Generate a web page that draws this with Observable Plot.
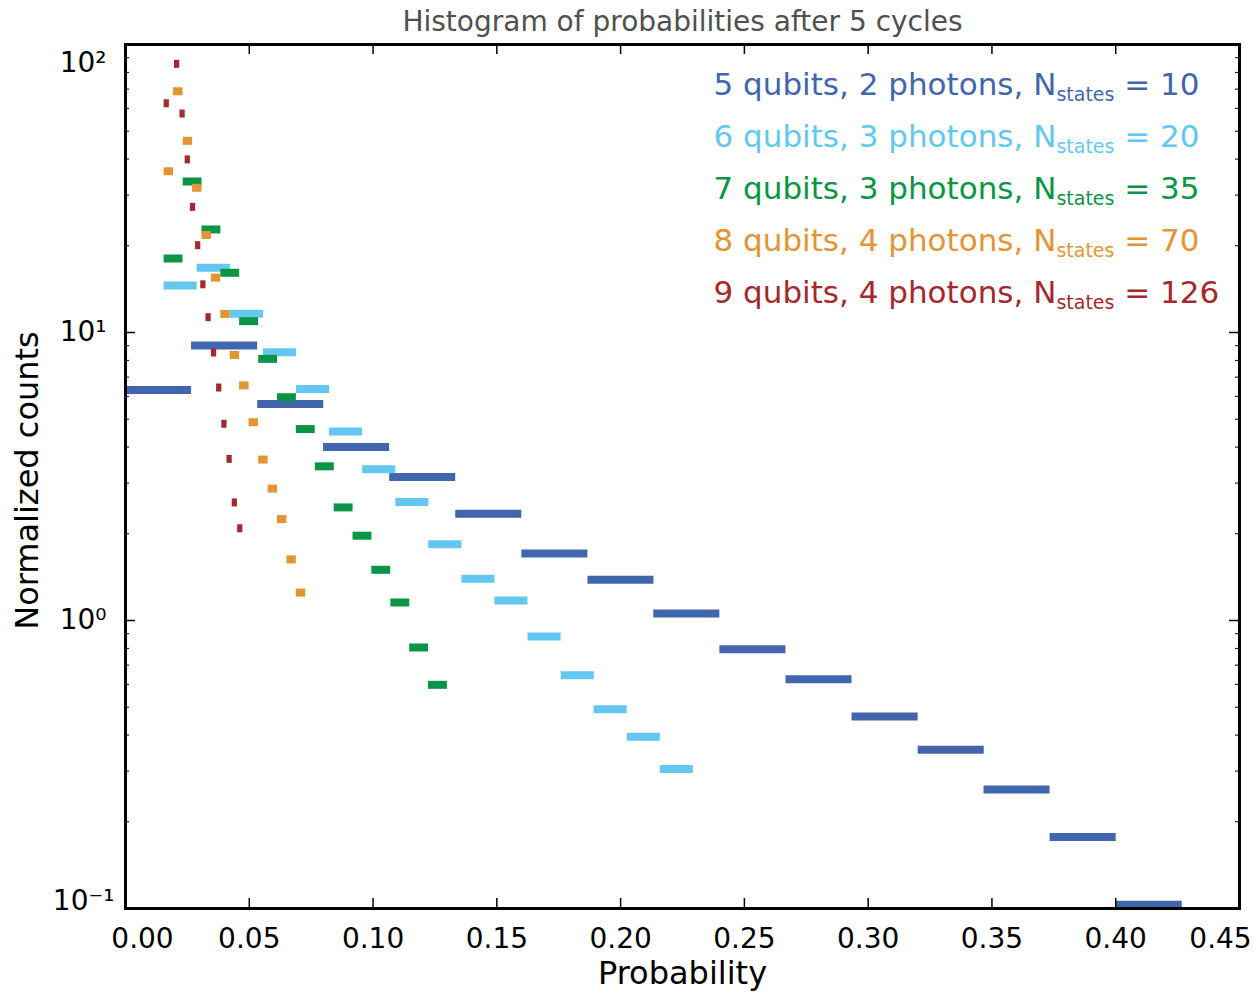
<!DOCTYPE html>
<html><head><meta charset="utf-8">
<script src="https://cdn.jsdelivr.net/npm/d3@7"></script>
<script src="https://cdn.jsdelivr.net/npm/@observablehq/plot@0.6"></script>
<style>body{margin:0;background:#fff;}</style>
</head><body><div id="chart"></div>
<script>
// ---- data ----
const title = "Histogram of probabilities after 5 cycles";
const xLabel = "Probability";
const yLabel = "Normalized counts";
const seriesNames = ["5 qubits, 2 photons", "6 qubits, 3 photons", "7 qubits, 3 photons", "8 qubits, 4 photons", "9 qubits, 4 photons"];
const nStates = [10, 20, 35, 70, 126];
const colors = ["#4266ac", "#63c8f0", "#0a9445", "#e39433", "#a5282d"];
const binWidths = [0.02668, 0.01336, 0.007627, 0.003811, 0.002118];

const binStarts5 = [0, 0.0267, 0.0534, 0.0800, 0.1067, 0.1334, 0.1601, 0.1868, 0.2134, 0.2401, 0.2668, 0.2935, 0.3202, 0.3468, 0.3735, 0.4002];
const counts5 = [6.32, 9.01, 5.65, 4.00, 3.15, 2.35, 1.71, 1.385, 1.057, 0.795, 0.625, 0.464, 0.356, 0.259, 0.177, 0.103];
const binStarts6 = [0.0156, 0.0290, 0.0424, 0.0557, 0.0691, 0.0824, 0.0958, 0.1092, 0.1225, 0.1359, 0.1492, 0.1626, 0.1760, 0.1893, 0.2027, 0.2160];
const counts6 = [14.56, 16.77, 11.61, 8.54, 6.37, 4.53, 3.35, 2.58, 1.84, 1.395, 1.173, 0.880, 0.645, 0.492, 0.395, 0.305];
const binStarts7 = [0.0156, 0.0233, 0.0309, 0.0385, 0.0461, 0.0538, 0.0614, 0.0690, 0.0767, 0.0843, 0.0919, 0.0995, 0.1072, 0.1148, 0.1224];
const counts7 = [18.07, 33.44, 22.79, 16.12, 10.95, 8.10, 5.96, 4.62, 3.43, 2.47, 1.97, 1.50, 1.155, 0.806, 0.598];
const binStarts8 = [0.0156, 0.0194, 0.0233, 0.0271, 0.0309, 0.0347, 0.0385, 0.0423, 0.0461, 0.0499, 0.0538, 0.0576, 0.0614, 0.0652, 0.0690];
const counts8 = [36.3, 68.8, 46.3, 31.8, 21.8, 15.5, 11.6, 8.36, 6.55, 4.88, 3.62, 2.87, 2.25, 1.63, 1.25];
const binStarts9 = [0.0156, 0.0198, 0.0220, 0.0241, 0.0262, 0.0283, 0.0304, 0.0325, 0.0347, 0.0368, 0.0389, 0.0410, 0.0431, 0.0453];
const counts9 = [62.5, 85.7, 57.6, 39.9, 27.3, 20.1, 14.7, 11.3, 8.52, 6.44, 4.82, 3.64, 2.57, 2.09];

const xTicks = [0.05, 0.10, 0.15, 0.20, 0.25, 0.30, 0.35, 0.40];
const yMajor = [0.1, 1, 10, 100];
const yMinor = [0.2, 0.3, 0.4, 0.5, 0.6, 0.7, 0.8, 0.9, 2, 3, 4, 5, 6, 7, 8, 9, 20, 30, 40, 50, 60, 70, 80, 90];

// ---- build table ----
const allStarts = [binStarts5, binStarts6, binStarts7, binStarts8, binStarts9];
const allCounts = [counts5, counts6, counts7, counts8, counts9];
const series = allStarts.map((starts, s) => starts.map((x0, i) => ({s, x1: x0, x2: x0 + binWidths[s], y: allCounts[s][i]})));

// ---- layout ----
const W = 1255, H = 993, mL = 125, mR = 16, mT = 44, mB = 85;
const fw = W - mL - mR, fh = H - mT - mB;

const supDigits = {"-": "⁻", "0": "⁰", "1": "¹", "2": "²", "3": "³"};
const fmtPow = d => "10" + String(Math.round(Math.log10(d))).split("").map(c => supDigits[c]).join("");

const marks = [];
series.forEach((rows, s) => {
  marks.push(Plot.ruleY(rows, {x1: "x1", x2: "x2", y: "y", stroke: colors[s], strokeWidth: 8, strokeLinecap: "butt"}));
});
// inward ticks
marks.push(Plot.tickY(yMajor, {y: d => d, insetRight: fw - 10, strokeWidth: 1.5}));
marks.push(Plot.tickY(yMajor, {y: d => d, insetLeft: fw - 10, strokeWidth: 1.5}));
marks.push(Plot.tickY(yMinor, {y: d => d, insetRight: fw - 4, strokeWidth: 1}));
marks.push(Plot.tickY(yMinor, {y: d => d, insetLeft: fw - 4, strokeWidth: 1}));
marks.push(Plot.tickX(xTicks, {x: d => d, insetTop: fh - 10, strokeWidth: 1.5}));
marks.push(Plot.tickX(xTicks, {x: d => d, insetBottom: fh - 10, strokeWidth: 1.5}));
// tick labels
const xFmt = d3.format(".2f");
marks.push(Plot.axisX(xTicks, {tickSize: 0, tickPadding: 20, fontSize: 28, tickFormat: xFmt, label: null}));
marks.push(Plot.axisX([0], {tickSize: 0, tickPadding: 20, fontSize: 28, tickFormat: xFmt, label: null, dx: 17}));
marks.push(Plot.axisX([0.45], {tickSize: 0, tickPadding: 20, fontSize: 28, tickFormat: xFmt, label: null, dx: -19}));
marks.push(Plot.axisY([1, 10], {tickSize: 0, tickPadding: 19, fontSize: 28, tickFormat: fmtPow, label: null}));
marks.push(Plot.axisY([100], {tickSize: 0, tickPadding: 19, fontSize: 28, tickFormat: fmtPow, label: null, dy: 19}));
marks.push(Plot.axisY([0.1], {tickSize: 0, tickPadding: 19, fontSize: 28, tickFormat: fmtPow, label: null, dy: -7, dx: 8}));
marks.push(Plot.frame({stroke: "black", strokeWidth: 3}));
// titles
marks.push(Plot.text([title], {text: d => d, frameAnchor: "top", lineAnchor: "top", dy: -33, fontSize: 28, fill: "#505050"}));
marks.push(Plot.text([xLabel], {text: d => d, frameAnchor: "bottom", lineAnchor: "top", dy: 53, fontSize: 32, fill: "black"}));
marks.push(Plot.text([yLabel], {text: d => d, frameAnchor: "left", textAnchor: "middle", rotate: -90, dx: -98, dy: 4, fontSize: 32, fill: "black"}));
// legend
seriesNames.forEach((name, i) => {
  marks.push(Plot.text([`${name}, N|states| = ${nStates[i]}`], {
    text: d => d, frameAnchor: "top-left", textAnchor: "start", lineAnchor: "top",
    dx: 588, dy: 94 + 52 * i - 22 - mT, fontSize: 31, fill: colors[i]
  }));
});

const svg = Plot.plot({
  width: W, height: H, marginLeft: mL, marginRight: mR, marginTop: mT, marginBottom: mB,
  x: {domain: [0, 0.45]},
  y: {type: "log", domain: [0.1, 100]},
  style: {fontFamily: "'DejaVu Sans', sans-serif", background: "white", color: "black"},
  marks
});

// subscript "states" in legend
d3.select(svg).selectAll("text").each(function() {
  const t = d3.select(this);
  const s = t.text();
  if (s.indexOf("|") < 0) return;
  const parts = s.split("|");
  t.text(null);
  t.append("tspan").text(parts[0]);
  t.append("tspan").attr("font-size", 19).attr("dy", 6).text(parts[1]);
  t.append("tspan").attr("dy", -6).text(parts[2]);
});

document.getElementById("chart").appendChild(svg);
</script>
</body></html>
